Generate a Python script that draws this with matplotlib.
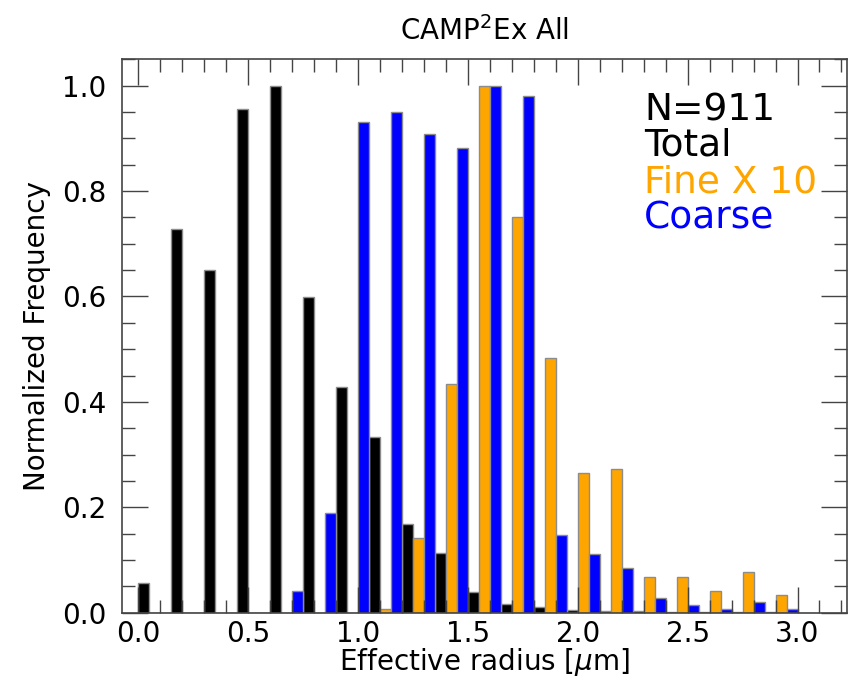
import numpy as np
import matplotlib
matplotlib.use('Agg')
import matplotlib.pyplot as plt
from matplotlib.ticker import MultipleLocator

# left edge of each 0.15 um bin
bin_left = [0.0, 0.15, 0.30, 0.45, 0.60, 0.75, 0.90, 1.05, 1.20, 1.35,
            1.50, 1.65, 1.80, 1.95, 2.10, 2.25, 2.40, 2.55, 2.70, 2.85]

total = [0.056, 0.729, 0.650, 0.955, 1.000, 0.599, 0.429, 0.333, 0.168, 0.113,
         0.039, 0.016, 0.011, 0.005, 0.004, 0.003, 0.002, 0.002, 0.002, 0.001]
fine_x10 = [0.0, 0.0, 0.0, 0.0, 0.0, 0.0, 0.0, 0.007, 0.142, 0.434,
            1.000, 0.751, 0.483, 0.266, 0.273, 0.068, 0.068, 0.041, 0.078, 0.033]
coarse = [0.0, 0.0, 0.0, 0.0, 0.041, 0.189, 0.931, 0.951, 0.909, 0.882,
          1.000, 0.980, 0.147, 0.112, 0.084, 0.028, 0.015, 0.007, 0.021, 0.007]

n_total = 911

bw = 0.05
edge = '#8c8c8c'
axcol = '#444444'

fig = plt.figure(figsize=(8.49, 6.78), dpi=100)
ax = fig.add_axes([0.1433, 0.0963, 0.8543, 0.8162])

x = np.array(bin_left)
ax.bar(x, total, width=bw, align='edge', color='black', edgecolor=edge, linewidth=1)
ax.bar(x + bw, fine_x10, width=bw, align='edge', color='orange', edgecolor=edge, linewidth=1)
ax.bar(x + 2 * bw, coarse, width=bw, align='edge', color='blue', edgecolor=edge, linewidth=1)

ax.set_xlim(-0.075, 3.225)
ax.set_ylim(0, 1.05)

ax.xaxis.set_major_locator(MultipleLocator(0.5))
ax.xaxis.set_minor_locator(MultipleLocator(0.1))
ax.yaxis.set_major_locator(MultipleLocator(0.2))
ax.yaxis.set_minor_locator(MultipleLocator(0.05))

ax.tick_params(which='both', direction='in', top=True, right=True,
               color=axcol, width=1, labelsize=20)
ax.tick_params(which='major', length=18.7)
ax.tick_params(which='minor', length=9.4)
ax.tick_params(axis='x', which='major', pad=5.5)
ax.tick_params(axis='y', which='major', pad=11)
for s in ax.spines.values():
    s.set_color(axcol)
    s.set_linewidth(1.2)

ax.set_xlabel(r'Effective radius [$\mu$m]', fontsize=20, labelpad=-1.5)
ax.set_ylabel('Normalized Frequency', fontsize=20, labelpad=8)
ax.set_title(r'CAMP$^2$Ex All', fontsize=20, pad=14)

fs = 27
ax.text(0.72, 0.890, 'N=%d' % n_total, transform=ax.transAxes, fontsize=fs, color='black')
ax.text(0.72, 0.826, 'Total', transform=ax.transAxes, fontsize=fs, color='black')
ax.text(0.72, 0.760, 'Fine X 10', transform=ax.transAxes, fontsize=fs, color='orange')
ax.text(0.72, 0.695, 'Coarse', transform=ax.transAxes, fontsize=fs, color='blue')

fig.savefig('out.png', dpi=100)
